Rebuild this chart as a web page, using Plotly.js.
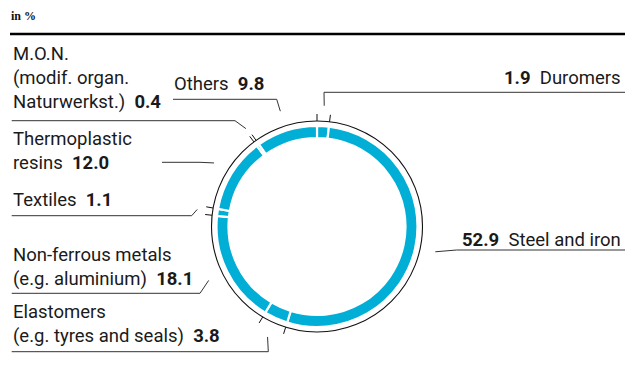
<!DOCTYPE html>
<html>
<head>
<meta charset="utf-8">
<script src="https://cdn.plot.ly/plotly-3.0.1.min.js"></script>
<style>html,body{margin:0;padding:0;background:#fff;}#chart{width:625px;height:382px;}</style>
</head>
<body>
<div id="chart"></div>
<script>
// ---- data ----
const categories = ['Duromers','Steel and iron','Elastomers','Non-ferrous metals','Textiles','Thermoplastic resins','M.O.N.','Others'];
const values = [1.9, 52.9, 3.8, 18.1, 1.1, 12.0, 0.4, 9.8];
const labelLines = [
  ['Duromers'],
  ['Steel and iron'],
  ['Elastomers','(e.g. tyres and seals)'],
  ['Non-ferrous metals','(e.g. aluminium)'],
  ['Textiles'],
  ['Thermoplastic','resins'],
  ['M.O.N.','(modif. organ.','Naturwerkst.)'],
  ['Others']
];
const unitText = 'in %';

// ---- layout constants (pixels) ----
const W = 625, H = 382;
const cx = 317, cy = 226.5;
const pieR = 100.5, holeR = 88.5;
const ringR = 105.5, tickR2 = 112.5, leaderR = 121;
const rotation = 0;
const FONT = 'Roboto, sans-serif';
const FS = 18.5;
const textColor = '#1a1a1a';
const lineColor = '#333333';

// label placement: side, x, first-line cap-centre y, line gap
const labelSide = ['right','right','left','left','left','left','left','left'];
const labelX =    [622, 622, 11.5, 11.5, 11.5, 11.5, 11.5, 173];
const labelY =    [78, 239.5, 312, 255, 199.5, 138.8, 54, 84];
const labelGap = 24;
// leader elbows: [elbowX, elbowY, endX]
const leaders = [
  [324, 92.3, 625],
  [456.7, 250, 625],
  [268.3, 351.7, 11.7],
  [200, 293.3, 11.7],
  [191.7, 215.7, 11.7],
  [200, 162.3, 162],
  [235, 120.7, 11.7],
  [276.7, 99.3, 173]
];

// ---- geometry from data ----
const total = values.reduce((a,b)=>a+b,0);
const pt = (deg, r) => {
  const a = deg*Math.PI/180;
  return [cx + r*Math.sin(a), cy - r*Math.cos(a)];
};
let cum = 0;
const startDeg = [], endDeg = [];
values.forEach(v => { startDeg.push(rotation + cum/total*360); cum += v; endDeg.push(rotation + cum/total*360); });

// ticks at boundaries of small slices
const tx = [], ty = [];
values.forEach((v,i) => {
  if (v < 5) {
    [startDeg[i], endDeg[i]].forEach(d => {
      const p1 = pt(d, ringR), p2 = pt(d, tickR2);
      tx.push(p1[0], p2[0], null); ty.push(p1[1], p2[1], null);
    });
  }
});

// leader lines
const lx = [], ly = [];
values.forEach((v,i) => {
  const mid = (startDeg[i]+endDeg[i])/2;
  const p = pt(mid, leaderR);
  const L = leaders[i];
  lx.push(p[0], L[0], L[2], null);
  ly.push(p[1], L[1], L[1], null);
});

// annotations
const NB = '\u00A0';
const annotations = [];
labelLines.forEach((lines, i) => {
  const val = '<b>' + values[i].toFixed(1) + '</b>';
  lines.forEach((ln, j) => {
    let txt = ln;
    if (j === lines.length - 1) {
      txt = labelSide[i] === 'left' ? ln + NB + NB + val : val + NB + NB + ln;
    }
    annotations.push({
      x: labelX[i], y: labelY[i] + j*labelGap, xref: 'x', yref: 'y',
      text: txt, showarrow: false,
      xanchor: labelSide[i] === 'left' ? 'left' : 'right', yanchor: 'middle',
      font: {family: FONT, size: FS, color: textColor}, borderpad: 0
    });
  });
});
annotations.push({
  x: 10, y: 15.5, xref: 'x', yref: 'y', text: '<b>' + unitText + '</b>', showarrow: false,
  xanchor: 'left', yanchor: 'middle', borderpad: 0,
  font: {family: 'Liberation Serif, Times New Roman, serif', size: 12, color: '#111'}
});

const traces = [
  {
    type: 'pie', values: values, labels: categories, sort: false,
    direction: 'clockwise', rotation: rotation, hole: holeR/pieR,
    textinfo: 'none', hoverinfo: 'label+value', showlegend: false,
    marker: {colors: categories.map(() => '#00AED6'), line: {color: '#ffffff', width: 2.2}},
    domain: {x: [(cx-pieR)/W, (cx+pieR)/W], y: [(H-cy-pieR)/H, (H-cy+pieR)/H]}
  },
  {type: 'scatter', mode: 'lines', x: tx, y: ty, line: {color: '#111', width: 1}, hoverinfo: 'skip', showlegend: false},
  {type: 'scatter', mode: 'lines', x: lx, y: ly, line: {color: lineColor, width: 1}, hoverinfo: 'skip', showlegend: false}
];

const layout = {
  width: W, height: H, margin: {l:0, r:0, t:0, b:0},
  paper_bgcolor: '#fff', plot_bgcolor: 'rgba(0,0,0,0)',
  xaxis: {range: [0, W], visible: false, fixedrange: true},
  yaxis: {range: [H, 0], visible: false, fixedrange: true},
  showlegend: false,
  annotations: annotations,
  shapes: [
    {type: 'circle', xref: 'x', yref: 'y', x0: cx-ringR, x1: cx+ringR, y0: cy-ringR, y1: cy+ringR,
     line: {color: '#111', width: 1.1}},
    {type: 'line', xref: 'x', yref: 'y', x0: 10, x1: W, y0: 34, y1: 34, line: {color: '#000', width: 2.5}}
  ]
};

Plotly.newPlot('chart', traces, layout, {staticPlot: true, displayModeBar: false});
</script>
</body>
</html>
